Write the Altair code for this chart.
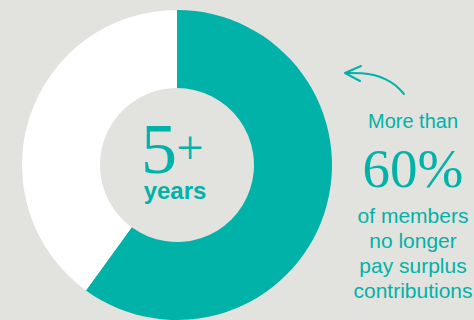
import altair as alt
import pandas as pd

# Data
categories = ["No longer pay surplus", "Still pay surplus"]
shares = [60, 40]
colors = ["#00b2a8", "#ffffff"]

center_big = "5"
center_plus = "+"
center_small = "years"
side_top = "More than"
side_big = "60%"
side_lines = ["of members", "no longer", "pay surplus", "contributions"]

# annotation arrow path (pixel coordinates of the decoration)
arrow_x = [404, 396, 386, 375, 362, 346]
arrow_y = [94, 85, 79, 75, 73, 73]
head_x = [361, 345, 360]
head_y = [66, 73, 81]

TEAL = "#00b2a8"
BG = "#e2e2de"
W, H = 474, 320
CX, CY = 177, 165

df = pd.DataFrame({"category": categories, "share": shares, "order": [0, 1]})

donut = alt.Chart(df).mark_arc(
    outerRadius=155, innerRadius=77, x=CX, y=CY
).encode(
    theta=alt.Theta("share:Q", stack=True),
    color=alt.Color("category:N", scale=alt.Scale(domain=categories, range=colors), legend=None),
    order=alt.Order("order:Q"),
)

def txt(text, x, y, size, font, weight="normal", align="center"):
    return alt.Chart(pd.DataFrame({"t": [text]})).mark_text(
        x=x, y=y, fontSize=size, font=font, fontWeight=weight, color=TEAL,
        align=align, baseline="alphabetic"
    ).encode(text="t:N")

serif = "Liberation Serif"
sans = "Liberation Sans"

layers = [donut,
          txt(center_big, 159, 173, 72, serif),
          txt(center_plus, 190, 164, 48, serif),
          txt(center_small, 175, 199, 24, sans, "bold"),
          txt(side_top, 413, 128, 20, sans),
          txt(side_big, 413, 187, 55, serif)]
for i, line in enumerate(side_lines):
    layers.append(txt(line, 413, 223 + 25 * i, 21, sans))

xs = alt.Scale(domain=[0, W], range=[0, W])
ys = alt.Scale(domain=[0, H], range=[0, H])

arrow_df = pd.DataFrame({"x": arrow_x, "y": arrow_y, "i": range(len(arrow_x))})
arrow = alt.Chart(arrow_df).mark_line(color=TEAL, strokeWidth=2, interpolate="basis", strokeCap="round").encode(
    x=alt.X("x:Q", scale=xs, axis=None),
    y=alt.Y("y:Q", scale=ys, axis=None),
    order="i:Q",
)
head_df = pd.DataFrame({"x": head_x, "y": head_y, "i": range(len(head_x))})
head = alt.Chart(head_df).mark_line(color=TEAL, strokeWidth=2, strokeCap="round", strokeJoin="round").encode(
    x=alt.X("x:Q", scale=xs, axis=None),
    y=alt.Y("y:Q", scale=ys, axis=None),
    order="i:Q",
)
layers += [arrow, head]

chart = alt.layer(*layers).resolve_scale(x="shared", y="shared").properties(
    width=W, height=H, padding=0, autosize=alt.AutoSizeParams(type="none"), background=BG
).configure_view(stroke=None)

chart.save("out.html", embed_options={"renderer": "svg", "actions": False})
